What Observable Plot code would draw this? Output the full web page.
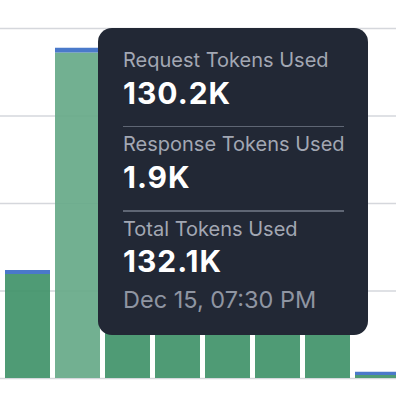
<!DOCTYPE html>
<html>
<head>
<meta charset="utf-8">
<script src="https://cdn.jsdelivr.net/npm/d3@7"></script>
<script src="https://cdn.jsdelivr.net/npm/@observablehq/plot@0.6"></script>
<style>
  html, body { margin: 0; padding: 0; background: #fff; overflow: hidden; }
  #wrap { position: relative; width: 396px; height: 401px; overflow: hidden; font-family: Inter, "Noto Sans", sans-serif; }
  #wrap svg { display: block; }
  #tip { position: absolute; left: 98px; top: 28px; width: 270px; height: 307px; background: #222835; border-radius: 14px; }
  #tip .lbl, #tip .val, #tip .date { position: absolute; left: 25px; white-space: nowrap; }
  #tip .lbl { font-size: 20px; line-height: 24px; color: #a2a7b3; font-weight: 400; }
  #tip .val { font-size: 30px; line-height: 36px; color: #ffffff; font-weight: 700; letter-spacing: 1px; }
  #tip .date { font-size: 23.5px; line-height: 28px; color: #8f95a2; font-weight: 400; }
  #tip .div { position: absolute; left: 25px; width: 221px; height: 1.5px; background: #5f6674; }
</style>
</head>
<body>
<div id="wrap"></div>
<script>
// Time buckets (30-minute steps)
const times = [
  "Dec 15, 06:30 PM", "Dec 15, 07:00 PM", "Dec 15, 07:30 PM", "Dec 15, 08:00 PM",
  "Dec 15, 08:30 PM", "Dec 15, 09:00 PM", "Dec 15, 09:30 PM", "Dec 15, 10:00 PM",
  "Dec 15, 10:30 PM"
];
const requestTokens  = [14300, 41600, 130200, 96000, 84000, 72000, 90000, 60000, 1200];
const responseTokens = [1300, 1600, 1900, 1500, 1400, 1300, 1500, 1200, 1300];
const hoveredIndex = 2;
const yTicks = [0, 35000, 70000, 105000, 140000];
const seriesNames = ["Request Tokens Used", "Response Tokens Used", "Total Tokens Used"];

const rows = [];
times.forEach((t, i) => {
  rows.push({time: t, series: "request", value: requestTokens[i], i});
  rows.push({time: t, series: "response", value: responseTokens[i], i});
});

const fillFor = d => d.series === "response" ? "#3c6fc6"
  : (d.i === hoveredIndex ? "#67aa89" : "#42936a");

const chart = Plot.plot({
  width: 396,
  height: 401,
  marginTop: 28,
  marginBottom: 23,
  marginLeft: 0,
  marginRight: 0,
  style: {background: "transparent", overflow: "hidden"},
  x: {type: "band", domain: times, range: [-50, 405], padding: 0.1, axis: null},
  y: {domain: [0, 140000], axis: null},
  color: {type: "identity"},
  marks: [
    Plot.ruleY(yTicks, {stroke: "#d5d7dc", strokeWidth: 1.6}),
    Plot.barY(rows, Plot.stackY({
      x: "time", y: "value", z: "series",
      order: ["request", "response"],
      fill: fillFor, fillOpacity: 0.93
    }))
  ]
});
document.getElementById("wrap").appendChild(chart);

// Tooltip built from the hovered bucket
const fmt = v => (v / 1000).toFixed(1) + "K";
const req = requestTokens[hoveredIndex], res = responseTokens[hoveredIndex];
const tip = document.createElement("div");
tip.id = "tip";
tip.innerHTML = `
  <div class="lbl" style="top:20.4px">${seriesNames[0]}</div>
  <div class="val" style="top:47.4px">${fmt(req)}</div>
  <div class="div" style="top:97.5px"></div>
  <div class="lbl" style="top:104.4px">${seriesNames[1]}</div>
  <div class="val" style="top:131.4px">${fmt(res)}</div>
  <div class="div" style="top:182px"></div>
  <div class="lbl" style="top:188.7px">${seriesNames[2]}</div>
  <div class="val" style="top:214.8px">${fmt(req + res)}</div>
  <div class="date" style="top:258.4px">${times[hoveredIndex]}</div>
`;
document.getElementById("wrap").appendChild(tip);
</script>
</body>
</html>
